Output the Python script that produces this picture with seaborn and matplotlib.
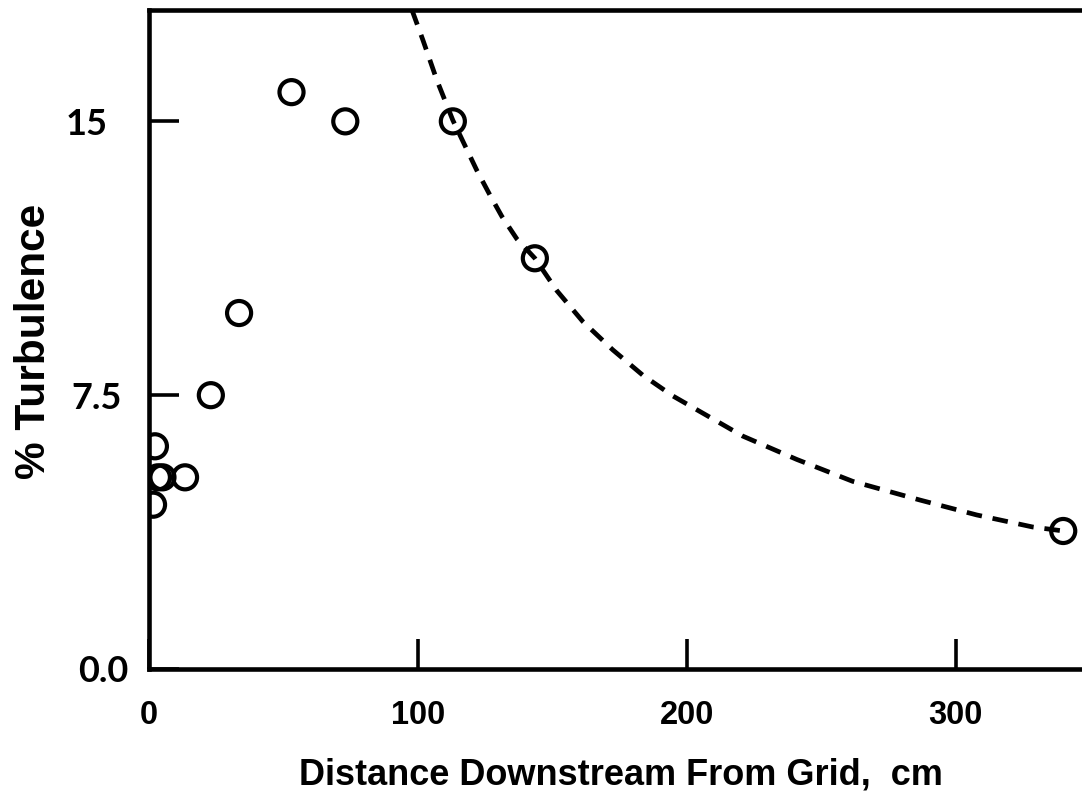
import matplotlib
matplotlib.use("Agg")
import matplotlib.pyplot as plt
import matplotlib.transforms as mtransforms
import seaborn as sns

# Measured turbulence intensity behind the grid
distance_cm = [1.5, 2.2, 3.3, 5.0, 13.4, 23.0, 33.5, 53.0, 73.0, 113.0, 143.5, 340.0]
turbulence_pct = [4.5, 6.1, 5.25, 5.25, 5.25, 7.5, 9.75, 15.8, 15.0, 15.0, 11.25, 3.78]

# Decay curve traced downstream of the peak
curve_x = [97.8, 101.9, 107.1, 113.0, 121.9, 126.8, 131.2, 136.8, 143.5, 151.7,
           161.3, 172.5, 183.6, 194.8, 205.9, 220.8, 240.9, 261.7, 286.6, 307.8,
           328.6, 340.1]
curve_y = [18.05, 17.22, 16.12, 15.03, 13.66, 12.98, 12.40, 11.78, 11.25, 10.36,
           9.52, 8.74, 8.05, 7.48, 7.01, 6.38, 5.74, 5.14, 4.63, 4.22,
           3.89, 3.78]

x_ticks = [0, 100, 200, 300]
x_tick_labels = ["0", "100", "200", "300"]
y_ticks = [0.0, 7.5, 15.0]
y_tick_labels = ["0.0", "7.5", "15"]
# horizontal gap (px) between each y tick label's right edge and the axis
y_label_gaps = [21, 27, 41]

sns.set_theme(style="white")
plt.rcParams["font.family"] = ["Liberation Sans", "DejaVu Sans"]
plt.rcParams.update({
    "text.color": "black",
    "axes.labelcolor": "black",
    "xtick.color": "black",
    "ytick.color": "black",
})

fig = plt.figure(figsize=(10.82, 8.0), dpi=100)
ax = fig.add_axes([149 / 1082, 131 / 800, 968 / 1082, 659 / 800])

sns.lineplot(x=curve_x, y=curve_y, ax=ax, sort=False, color="black",
             linewidth=3.4, linestyle=(0, (3.3, 2.3)), estimator=None)
sns.scatterplot(x=distance_cm, y=turbulence_pct, ax=ax, s=300, marker="o",
                facecolor="none", edgecolor="black", linewidth=3.0, zorder=3)

ax.set_xlim(0, 360)
ax.set_ylim(0, 18.05)

ax.set_xticks(x_ticks)
ax.set_xticklabels(x_tick_labels, fontsize=23.5, fontweight="bold",
                   family=["Liberation Sans", "DejaVu Sans"])
ax.set_yticks(y_ticks)
ax.set_yticklabels(y_tick_labels, fontsize=26, fontweight="bold",
                   family=["Lato", "DejaVu Sans"])

ax.tick_params(axis="both", which="major", direction="in", length=21.5,
               width=2.6, color="black", bottom=True, left=True,
               top=False, right=False)
ax.tick_params(axis="x", pad=22)
ax.tick_params(axis="y", pad=0)

for lbl, gap in zip(ax.get_yticklabels(), y_label_gaps):
    lbl.set_transform(lbl.get_transform() +
                      mtransforms.ScaledTranslation(-gap / 100, 0, fig.dpi_scale_trans))

for side in ["left", "bottom", "top", "right"]:
    ax.spines[side].set_color("black")
    ax.spines[side].set_linewidth(3.3)

ax.set_xlabel("Distance Downstream From Grid,  cm", fontsize=26,
              fontweight="bold")
ax.xaxis.label.set_va("center")
ax.xaxis.set_label_coords((621 - 149) / 968, -(775 - 669) / 659)

ax.set_ylabel("% Turbulence", fontsize=30.5, fontweight="bold")
ax.yaxis.label.set_va("center")
ax.yaxis.label.set_ha("center")
ax.yaxis.set_label_coords(-(149 - 34) / 968, (669 - 341) / 659)

fig.savefig("out.png", dpi=100, facecolor="white")
